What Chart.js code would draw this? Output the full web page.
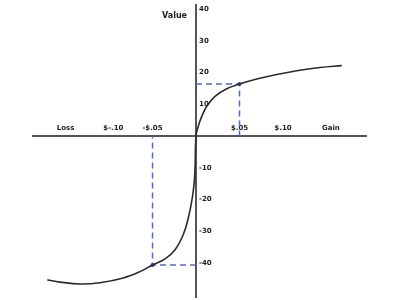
<!DOCTYPE html>
<html>
<head>
<meta charset="utf-8">
<script src="https://cdn.jsdelivr.net/npm/chart.js@4/dist/chart.umd.min.js"></script>
<style>
  body { margin: 0; background: #fff; }
  #wrap { width: 400px; height: 300px; position: relative; }
</style>
</head>
<body>
<div id="wrap"><canvas id="chart"></canvas></div>
<script>
// value function curve (gain/loss in $, value)
const curveX = [-0.1709, -0.1563, -0.1333, -0.1103, -0.0836, -0.0644, -0.05, -0.0356, -0.0241, -0.0146, -0.0089, -0.0049, -0.0023, -0.0011, 0,
                0.0026, 0.0066, 0.0123, 0.0218, 0.0353, 0.05, 0.0698, 0.0928, 0.1157, 0.1425, 0.1675];
const curveY = [-45.3, -46.0, -46.6, -46.2, -44.7, -42.7, -40.6, -38.7, -35.8, -31.0, -25.8, -20.5, -15.3, -10.0, 0,
                3.1, 6.2, 9.4, 12.5, 14.9, 16.4, 18.0, 19.4, 20.6, 21.6, 22.2];

// the two marked points with dashed guides
const gainPoint = { x: 0.05, y: 16.4 };
const lossPoint = { x: -0.05, y: -40.6 };

// axis ticks
const xTickVals = [-0.15, -0.095, -0.05, 0.05, 0.10, 0.155];
const xTickLabels = ["Loss", "$-.10", "-$.05", "$.05", "$.10", "Gain"];
const yTickVals = [40, 30, 20, 10, -10, -20, -30, -40];
const yTickLabels = ["40", "30", "20", "10", "-10", "-20", "-30", "-40"];
const yTitle = "Value";

const guide = (p) => [{ x: 0, y: p.y }, { x: p.x, y: p.y }, { x: p.x, y: 0 }];

const axisText = {
    id: "axisText",
    afterDraw(chart) {
        const { ctx, scales: { x, y } } = chart;
        const x0 = x.getPixelForValue(0);
        ctx.save();
        ctx.fillStyle = "#222";
        ctx.font = "bold 7px 'DejaVu Sans'";
        ctx.textAlign = "left";
        ctx.textBaseline = "middle";
        yTickVals.forEach((v, i) => ctx.fillText(yTickLabels[i], x0 + 3, y.getPixelForValue(v)));
        ctx.font = "bold 8px 'DejaVu Sans'";
        ctx.textAlign = "right";
        ctx.fillText(yTitle, x0 - 9, y.top + 11);
        ctx.restore();
    }
};

new Chart(document.getElementById("chart"), {
    type: "line",
    data: {
        datasets: [
            {
                data: curveX.map((v, i) => ({ x: v, y: curveY[i] })),
                borderColor: "#2b2b2b",
                borderWidth: 1.6,
                pointRadius: 0,
                tension: 0.4
            },
            {
                data: guide(gainPoint),
                borderColor: "#4a6ad6",
                borderWidth: 1.5,
                borderDash: [6, 4],
                pointRadius: [0, 2, 0],
                pointBackgroundColor: "#2a3fc0",
                pointBorderWidth: 0
            },
            {
                data: guide(lossPoint),
                borderColor: "#4a6ad6",
                borderWidth: 1.5,
                borderDash: [6, 4],
                pointRadius: [0, 2, 0],
                pointBackgroundColor: "#2a3fc0",
                pointBorderWidth: 0
            }
        ]
    },
    options: {
        responsive: true,
        maintainAspectRatio: false,
        animation: false,
        layout: { padding: { left: 33, right: 34, top: 5, bottom: 3 } },
        plugins: { legend: { display: false }, tooltip: { enabled: false } },
        scales: {
            x: {
                type: "linear",
                min: -0.1874,
                max: 0.1954,
                position: { y: 0 },
                grid: { display: false, drawTicks: false },
                border: { display: true, color: "#555", width: 2 },
                afterBuildTicks: (s) => { s.ticks = xTickVals.map(v => ({ value: v })); },
                ticks: {
                    autoSkip: false,
                    maxRotation: 0,
                    padding: -12,
                    color: "#222",
                    font: { family: "'DejaVu Sans'", size: 7, weight: "bold" },
                    callback: (v, i) => xTickLabels[i]
                }
            },
            y: {
                type: "linear",
                min: -50.7,
                max: 41.3,
                position: { x: 0 },
                grid: { display: false, drawTicks: false },
                border: { display: true, color: "#555", width: 2 },
                ticks: { display: false }
            }
        }
    },
    plugins: [axisText]
});
</script>
</body>
</html>
